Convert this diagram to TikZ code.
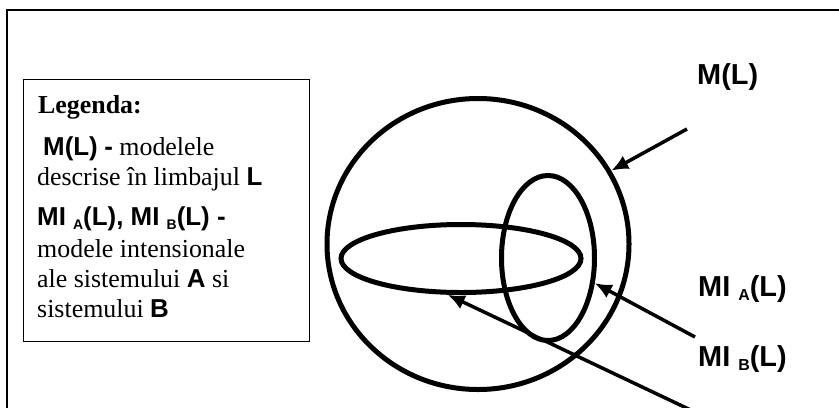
\documentclass[tikz,border=0pt]{standalone}
\usepackage{fontspec}
\setmainfont{Liberation Serif}
\setsansfont{Liberation Sans}
\usetikzlibrary{shapes.geometric,arrows.meta}
\newcommand\lowsub[1]{\raisebox{-4bp}{\fontsize{14}{14}\selectfont #1}}
\newcommand\bigsub[1]{\raisebox{-4.5bp}{\fontsize{16}{16}\selectfont #1}}
\newcommand\bs[1]{{\sffamily\bfseries #1}}
\begin{document}
\begin{tikzpicture}[x=1bp,y=-1bp,
  txt/.style={anchor=base west, inner sep=0pt, font=\fontsize{26}{30}\selectfont},
  lbl/.style={anchor=base west, inner sep=0pt, font=\fontsize{29}{32}\selectfont\sffamily\bfseries},
  shapeline/.style={draw, line width=5bp, inner sep=0pt, ellipse},
  pointer/.style={line width=3.5bp, -{Latex[length=17bp,width=15bp]}}]
\useasboundingbox (0,0) rectangle (839,407);
\clip (0,0) rectangle (839,407);
\fill[white] (0,0) rectangle (839,407);
% outer frame (runs off the page at right and bottom)
\draw[line width=1.4bp] (7,430) -- (7,10) -- (860,10);
% legend
\node[draw, line width=1.2bp, minimum width=286bp, minimum height=262bp, inner sep=0pt, anchor=north west] (legend) at (23,79) {};
\node[txt, font=\fontsize{26}{30}\selectfont\bfseries] (leg0) at (38,113) {Legenda:};
\node[txt] (leg1) at (43,155) {\bs{M(L)} \bs{-} modelele};
\node[txt] (leg2) at (37,185) {descrise în limbajul \bs{L}};
\node[txt] (leg3) at (37,225) {\bs{MI \lowsub{A}(L), MI \lowsub{B}(L) -}};
\node[txt] (leg4) at (37,257) {modele intensionale};
\node[txt] (leg5) at (37,287) {ale sistemului \bs{A} si};
\node[txt] (leg6) at (37,317) {sistemului \bs{B}};
% sets
\node[shapeline, minimum width=302bp, minimum height=291bp] (ML) at (478,244) {};
\node[shapeline, minimum width=240bp, minimum height=68bp] (HE) at (461,258.5) {};
\node[shapeline, minimum width=93bp, minimum height=165bp] (VE) at (548,258) {};
% labels
\node[lbl] (lML) at (697,84) {M(L)};
\node[lbl] (lMIA) at (698,296) {MI \bigsub{A}(L)};
\node[lbl] (lMIB) at (698,366) {MI \bigsub{B}(L)};
% pointers
\coordinate (tML) at (687,129);
\coordinate (tA) at (695,337);
\coordinate (tB) at (697,413);
\draw[pointer] (tML) -- (ML);
\draw[pointer] (tA) -- (VE);
\draw[pointer] (tB) -- (HE.250);
\end{tikzpicture}
\end{document}
